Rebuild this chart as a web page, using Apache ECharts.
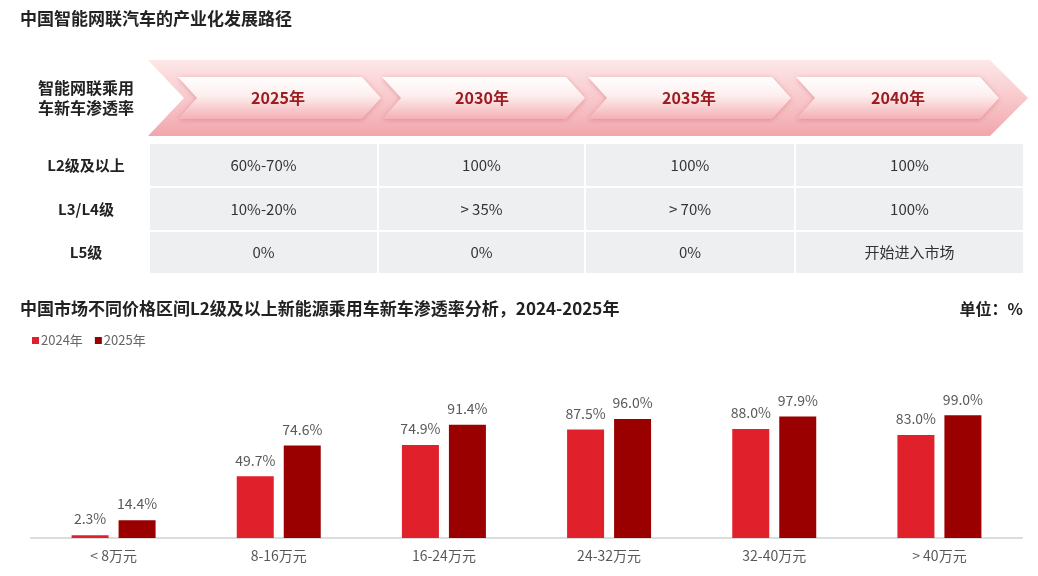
<!DOCTYPE html>
<html><head><meta charset="utf-8">
<script src="https://cdn.jsdelivr.net/npm/echarts@6/dist/echarts.min.js"></script>
<style>html,body{margin:0;padding:0;background:#fff}#c{width:1038px;height:576px}</style>
</head><body><div id="c"></div>
<script>
// ---- data ----
const years = ['2025年', '2030年', '2035年', '2040年'];
const rowLabels = ['L2级及以上', 'L3/L4级', 'L5级'];
const rowL2 = ['60%-70%', '100%', '100%', '100%'];
const rowL34 = ['10%-20%', '> 35%', '> 70%', '100%'];
const rowL5 = ['0%', '0%', '0%', '开始进入市场'];
const categories = ['< 8万元', '8-16万元', '16-24万元', '24-32万元', '32-40万元', '> 40万元'];
const s2024 = [2.3, 49.7, 74.9, 87.5, 88.0, 83.0];
const s2025 = [14.4, 74.6, 91.4, 96.0, 97.9, 99.0];

const FONT = '"Noto Sans CJK SC", "Noto Sans", sans-serif';
const chart = echarts.init(document.getElementById('c'));

// ---- layout of top table (graphic) ----
const graphics = [];
graphics.push({
  type: 'polygon', silent: true,
  shape: { points: [[148, 60], [990, 60], [1028, 98], [990, 136], [148, 136], [184, 98]] },
  style: { fill: new echarts.graphic.LinearGradient(0, 0, 0, 1, [
    { offset: 0, color: '#fde7e8' }, { offset: 0.5, color: '#f8c9cc' }, { offset: 1, color: '#f1a6ac' }]) }
});
const chevL = [178, 382, 588, 796];
const chevW = 203, chevD = 19, yT = 77, yB = 119, yM = 98;
const yearX = [278, 482, 689, 898];
chevL.forEach((L, i) => {
  graphics.push({
    type: 'polygon', silent: true,
    shape: { points: [[L, yT], [L + chevW - chevD, yT], [L + chevW, yM], [L + chevW - chevD, yB], [L, yB], [L + chevD, yM]] },
    style: {
      fill: new echarts.graphic.LinearGradient(0, 0, 0, 1, [
        { offset: 0, color: '#ffffff' }, { offset: 0.45, color: '#fdeeee' }, { offset: 1, color: '#f4b0b5' }]),
      shadowBlur: 5, shadowColor: 'rgba(190,60,70,0.35)', shadowOffsetY: 1
    }
  });
  graphics.push({
    type: 'text', silent: true, x: yearX[i], y: yM,
    style: { text: years[i], font: 'bold 16px ' + FONT, fill: '#9e1b20', align: 'center', verticalAlign: 'middle' }
  });
});
graphics.push({
  type: 'text', silent: true, x: 86, y: 98,
  style: { text: '智能网联乘用\n车新车渗透率', font: 'bold 16px ' + FONT, fill: '#222', align: 'center', verticalAlign: 'middle', lineHeight: 20 }
});
const colX = [[150, 377], [379, 584], [586, 794], [796, 1023]];
const rowY = [[144, 186], [188, 230], [232, 273]];
const rows = [rowL2, rowL34, rowL5];
rowY.forEach((ry, r) => {
  graphics.push({
    type: 'text', silent: true, x: 86, y: (ry[0] + ry[1]) / 2,
    style: { text: rowLabels[r], font: 'bold 15px ' + FONT, fill: '#222', align: 'center', verticalAlign: 'middle' }
  });
  colX.forEach((cx, c) => {
    graphics.push({
      type: 'rect', silent: true,
      shape: { x: cx[0], y: ry[0], width: cx[1] - cx[0], height: ry[1] - ry[0] },
      style: { fill: '#eeeff0' }
    });
    graphics.push({
      type: 'text', silent: true, x: (cx[0] + cx[1]) / 2, y: (ry[0] + ry[1]) / 2,
      style: { text: rows[r][c], font: '15px ' + FONT, fill: '#333', align: 'center', verticalAlign: 'middle' }
    });
  });
});
graphics.push({
  type: 'text', silent: true, x: 20, y: 19,
  style: { text: '中国智能网联汽车的产业化发展路径', font: 'bold 17px ' + FONT, fill: '#222', verticalAlign: 'middle' }
});
graphics.push({
  type: 'text', silent: true, x: 20, y: 309,
  style: { text: '中国市场不同价格区间L2级及以上新能源乘用车新车渗透率分析，2024-2025年', font: 'bold 17px ' + FONT, fill: '#222', verticalAlign: 'middle' }
});
graphics.push({
  type: 'text', silent: true, x: 1023, y: 309,
  style: { text: '单位：%', font: 'bold 16px ' + FONT, fill: '#222', align: 'right', verticalAlign: 'middle' }
});

const labelCfg = {
  show: true, position: 'top', distance: 9, color: '#595959', fontSize: 14, fontFamily: FONT,
  formatter: p => p.value.toFixed(1) + '%'
};

chart.setOption({
  animation: false,
  textStyle: { fontFamily: FONT },
  graphic: graphics,
  legend: {
    left: 27, top: 329, icon: 'rect', itemWidth: 7, itemHeight: 7, itemGap: 12,
    textStyle: { color: '#666', fontSize: 13, fontFamily: FONT, padding: [0, 0, 0, -3] },
    data: ['2024年', '2025年']
  },
  grid: { left: 31, right: 16, top: 414, bottom: 38 },
  xAxis: {
    type: 'category', data: categories,
    axisLine: { lineStyle: { color: '#dcdcdc', width: 2 } },
    axisTick: { show: false },
    axisLabel: { color: '#595959', fontSize: 14, margin: 11, fontFamily: FONT }
  },
  yAxis: { type: 'value', min: 0, max: 100, show: false, splitLine: { show: false } },
  series: [
    { name: '2024年', type: 'bar', data: s2024, barWidth: 37, barGap: '27%', itemStyle: { color: '#e0202b' }, label: labelCfg },
    { name: '2025年', type: 'bar', data: s2025, barWidth: 37, itemStyle: { color: '#9a0000' }, label: labelCfg }
  ]
});
</script></body></html>
